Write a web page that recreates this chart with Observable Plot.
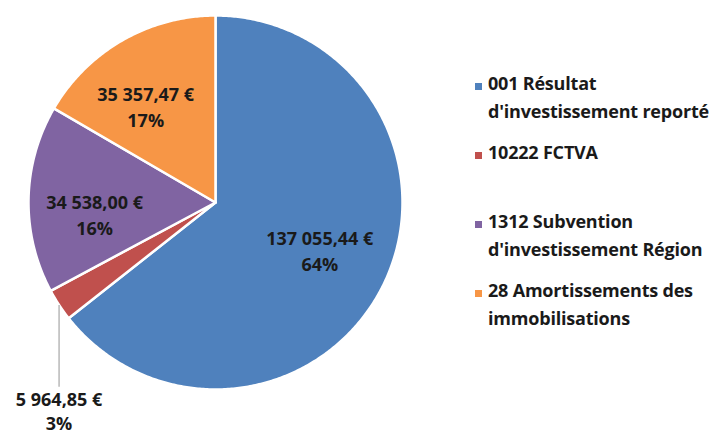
<!DOCTYPE html>
<html>
<head>
<meta charset="utf-8">
<script src="https://cdn.jsdelivr.net/npm/d3@7"></script>
<script src="https://cdn.jsdelivr.net/npm/@observablehq/plot@0.6"></script>
<style>
  html, body { margin: 0; padding: 0; background: #fff; }
  #wrap { position: relative; width: 719px; height: 437px; overflow: hidden; }
  #legend { position: absolute; left: 475px; top: 69px; font-family: "Open Sans", Lato, sans-serif; font-weight: bold; font-size: 18px; color: #1a1a1a; letter-spacing: -0.2px; }
  .item { position: relative; height: 69px; line-height: 28px; padding-left: 13px; white-space: nowrap; }
  .sw { position: absolute; left: 0; top: 14px; width: 7px; height: 7px; }
</style>
</head>
<body>
<div id="wrap"><div id="legend"></div></div>
<script>
const categories = ["001 Résultat d'investissement reporté", "10222 FCTVA", "1312 Subvention d'investissement Région", "28 Amortissements des immobilisations"];
const legendLines = [["001 Résultat", "d'investissement reporté"], ["10222 FCTVA"], ["1312 Subvention", "d'investissement Région"], ["28 Amortissements des", "immobilisations"]];
const amounts = [137055.44, 5964.85, 34538.00, 35357.47];
const amountLabels = ["137 055,44 €", "5 964,85 €", "34 538,00 €", "35 357,47 €"];
const percentLabels = ["64%", "3%", "16%", "17%"];
const colors = ["#4F81BD", "#C0504D", "#8064A2", "#F79646"];

// layout only (pixels): small nudges of the inside labels
const labelNudge = [[0, -3], [0, 0], [-5, 13], [-12, 4]];
const R = 187;

const data = categories.map((c, i) => ({cat: c, i, amount: amounts[i], label: amountLabels[i] + "\n" + percentLabels[i], outside: i === 1}));
const arcs = d3.pie().sort(null).value(d => d.amount)(data);

// slice outlines (geometry sampled along each arc)
const poly = [];
arcs.forEach(a => {
  poly.push({cat: a.data.cat, x: 0, y: 0});
  const n = Math.max(2, Math.ceil((a.endAngle - a.startAngle) / 0.01));
  for (let k = 0; k <= n; k++) {
    const t = a.startAngle + (a.endAngle - a.startAngle) * k / n;
    poly.push({cat: a.data.cat, x: Math.sin(t), y: Math.cos(t)});
  }
  poly.push({cat: a.data.cat, x: 0, y: 0});
});

const labelR = 0.62;
const inside = arcs.filter(a => !a.data.outside).map(a => {
  const m = (a.startAngle + a.endAngle) / 2;
  const [dx, dy] = labelNudge[a.data.i];
  return {x: labelR * Math.sin(m) + dx / R, y: labelR * Math.cos(m) - dy / R, text: a.data.label};
});
const outs = arcs.filter(a => a.data.outside).map(a => {
  const m = (a.startAngle + a.endAngle) / 2;
  return {x: Math.sin(m), y: Math.cos(m), y2: -0.985, ty: -1.0, text: a.data.label};
});

const chart = Plot.plot({
  width: 719,
  height: 437,
  margin: 0,
  x: {domain: [-1, 1], range: [215 - R, 215 + R], axis: null},
  y: {domain: [-1, 1], range: [202 + R, 202 - R], axis: null},
  color: {domain: categories, range: colors},
  style: {fontFamily: "'Open Sans', Lato, sans-serif", background: "white"},
  marks: [
    Plot.line(poly, {x: "x", y: "y", z: "cat", fill: "cat", stroke: "white", strokeWidth: 2.5, strokeLinejoin: "round", curve: "linear"}),
    Plot.text(inside, {x: "x", y: "y", text: "text", fontSize: 18, fontWeight: "bold", fill: "#1a1a1a", lineHeight: 1.45}),
    Plot.link(outs, {x1: "x", y1: "y", x2: "x", y2: "y2", stroke: "#a6a6a6", strokeWidth: 1.2}),
    Plot.text(outs, {x: "x", y: "ty", text: "text", fontSize: 18, fontWeight: "bold", fill: "#1a1a1a", lineHeight: 1.3, lineAnchor: "top"})
  ]
});
const wrap = document.getElementById("wrap");
wrap.insertBefore(chart, wrap.firstChild);

const legend = document.getElementById("legend");
legendLines.forEach((lines, i) => {
  const it = document.createElement("div");
  it.className = "item";
  const sw = document.createElement("span");
  sw.className = "sw";
  sw.style.background = colors[i];
  it.appendChild(sw);
  lines.forEach(l => { const d = document.createElement("div"); d.textContent = l; it.appendChild(d); });
  legend.appendChild(it);
});
</script>
</body>
</html>
